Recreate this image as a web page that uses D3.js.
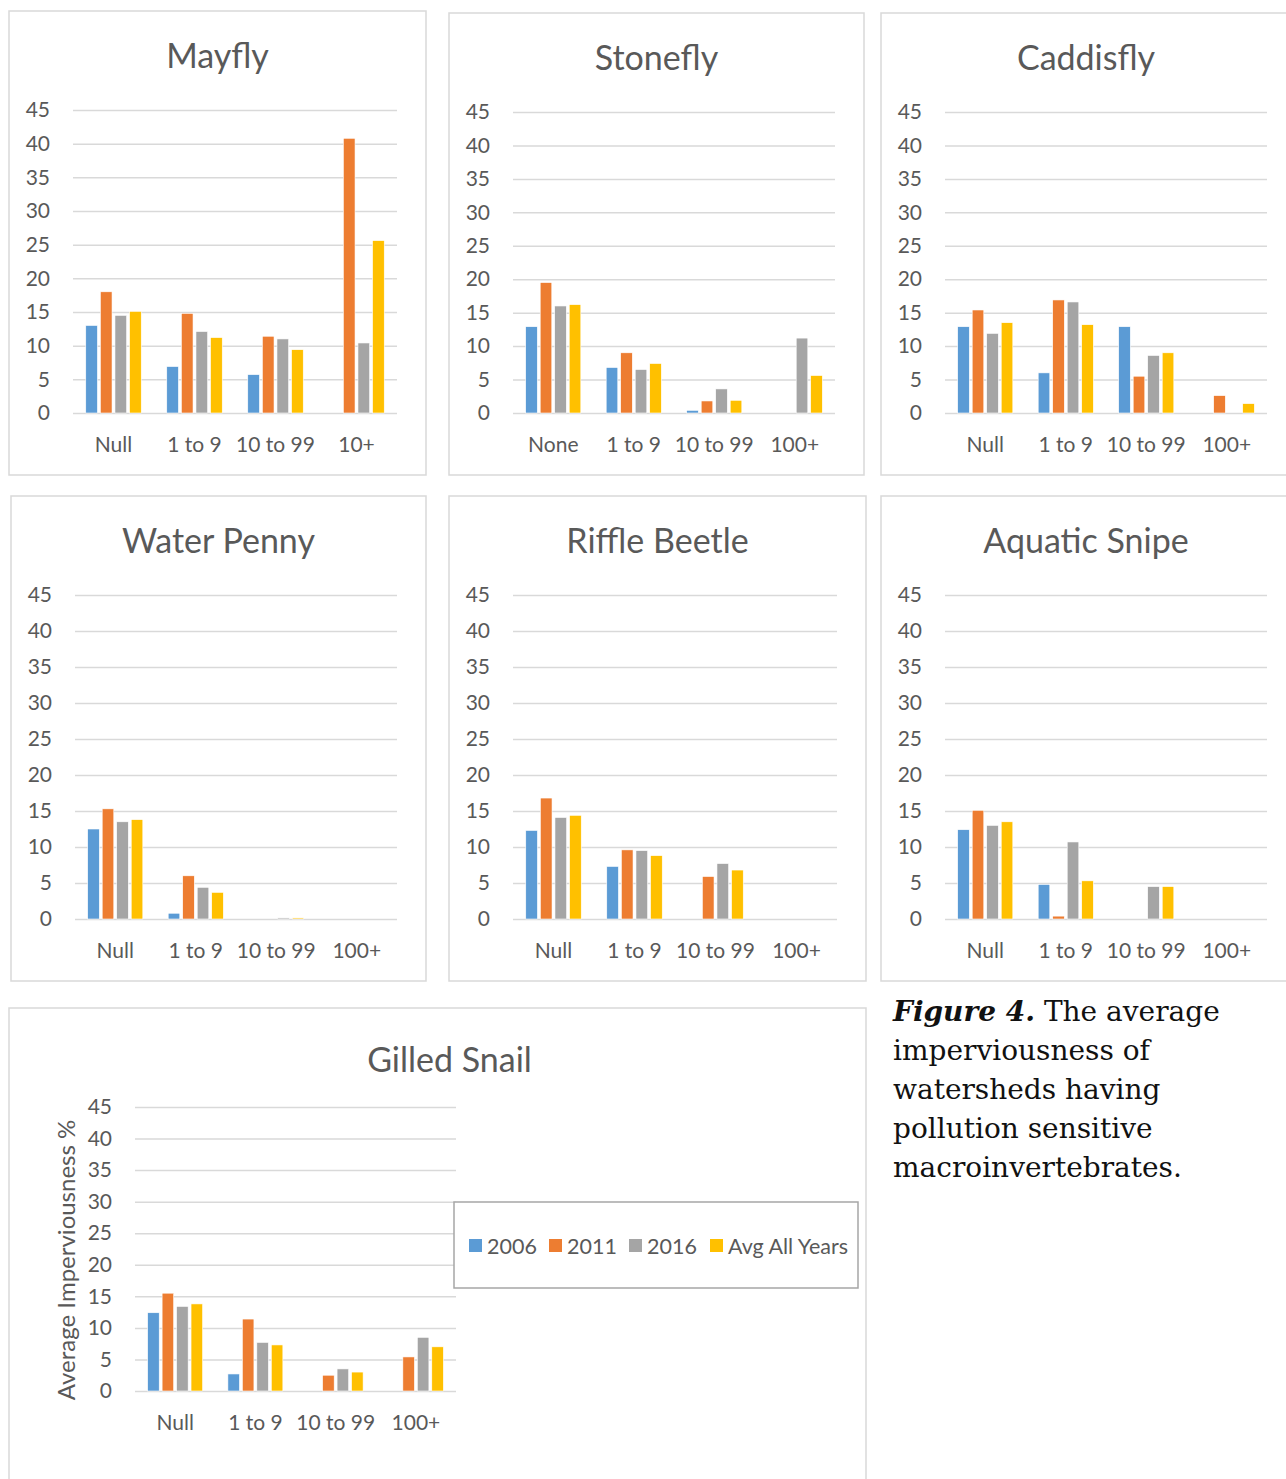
<!DOCTYPE html>
<html>
<head>
<meta charset="utf-8">
<script src="https://cdn.jsdelivr.net/npm/d3@7"></script>
<style>
  html, body { margin: 0; padding: 0; background: #fff; }
  svg { display: block; }
</style>
</head>
<body>
<svg id="chart" width="1286" height="1479"></svg>
<script>
// Series shown in every panel
const series = ["2006", "2011", "2016", "Avg All Years"];
const seriesColors = ["#5b9bd5", "#ed7d31", "#a5a5a5", "#ffc000"];

// Category labels (counts of organisms found)
const catsMayfly = ["Null", "1 to 9", "10 to 99", "10+"];
const catsStonefly = ["None", "1 to 9", "10 to 99", "100+"];
const catsStandard = ["Null", "1 to 9", "10 to 99", "100+"];

// Y ticks (average imperviousness, %)
const yTicks = [0, 5, 10, 15, 20, 25, 30, 35, 40, 45];

// Values per category: [2006, 2011, 2016, Avg All Years]; null = no bar
const mayfly = [
  [13.0, 18.0, 14.5, 15.1],
  [6.9, 14.8, 12.1, 11.2],
  [5.7, 11.4, 11.0, 9.4],
  [null, 40.8, 10.4, 25.6]
];
const stonefly = [
  [12.9, 19.5, 16.0, 16.2],
  [6.8, 9.0, 6.5, 7.4],
  [0.4, 1.8, 3.6, 1.9],
  [null, null, 11.2, 5.6]
];
const caddisfly = [
  [12.9, 15.4, 11.9, 13.5],
  [6.0, 16.9, 16.6, 13.2],
  [12.9, 5.5, 8.6, 9.0],
  [null, 2.6, null, 1.4]
];
const waterPenny = [
  [12.5, 15.3, 13.5, 13.8],
  [0.8, 6.0, 4.4, 3.7],
  [null, null, 0.15, 0.15],
  [null, null, null, null]
];
const riffleBeetle = [
  [12.3, 16.8, 14.1, 14.4],
  [7.3, 9.6, 9.5, 8.8],
  [null, 5.9, 7.7, 6.8],
  [null, null, null, null]
];
const aquaticSnipe = [
  [12.4, 15.1, 13.0, 13.5],
  [4.8, 0.4, 10.7, 5.3],
  [null, null, 4.5, 4.5],
  [null, null, null, null]
];
const gilledSnail = [
  [12.4, 15.5, 13.4, 13.8],
  [2.7, 11.4, 7.7, 7.3],
  [null, 2.5, 3.5, 3.0],
  [null, 5.4, 8.5, 7.0]
];

// Panel layout: frame box and plot area for each small multiple
const panels = [
  { title: "Mayfly",        cats: catsMayfly,   values: mayfly,       box: [9, 11, 417, 464],   plot: [73, 397, 110, 413],  titleY: 54 },
  { title: "Stonefly",      cats: catsStonefly, values: stonefly,     box: [449, 13, 415, 462], plot: [513, 835, 112, 413], titleY: 56 },
  { title: "Caddisfly",     cats: catsStandard, values: caddisfly,    box: [881, 13, 410, 462], plot: [945, 1267, 112, 413], titleY: 56 },
  { title: "Water Penny",   cats: catsStandard, values: waterPenny,   box: [11, 496, 415, 485], plot: [75, 397, 595, 919],  titleY: 539 },
  { title: "Riffle Beetle", cats: catsStandard, values: riffleBeetle, box: [449, 496, 417, 485], plot: [513, 837, 595, 919], titleY: 539 },
  { title: "Aquatic Snipe", cats: catsStandard, values: aquaticSnipe, box: [881, 496, 410, 485], plot: [945, 1267, 595, 919], titleY: 539 },
  { title: "Gilled Snail",  cats: catsStandard, values: gilledSnail,  box: [9, 1008, 857, 480], plot: [135, 456, 1107, 1391], titleY: 1058 }
];

const svg = d3.select("#chart");
const textColor = "#595959";
const gridColor = "#d9d9d9";
const fontFamily = "Lato, 'Open Sans', sans-serif";

panels.forEach(p => {
  const [bx, by, bw, bh] = p.box;
  const [pl, pr, pt, pb] = p.plot;

  const g = svg.append("g");

  // Panel frame
  g.append("rect")
    .attr("x", bx).attr("y", by).attr("width", bw).attr("height", bh)
    .attr("fill", "#fff").attr("stroke", gridColor).attr("stroke-width", 1.5);

  // Title
  g.append("text")
    .attr("x", bx + bw / 2 + (p.title === "Gilled Snail" ? 12 : 0))
    .attr("y", p.titleY)
    .attr("text-anchor", "middle").attr("dominant-baseline", "central")
    .attr("fill", textColor).attr("font-family", fontFamily).attr("font-size", 34)
    .text(p.title);

  const y = d3.scaleLinear().domain([0, 45]).range([pb, pt]);
  const x0 = d3.scaleBand().domain(p.cats).range([pl, pr]).padding(0);
  const bwBand = x0.bandwidth();
  const x1 = d3.scaleBand().domain(series)
    .range([bwBand * 0.1575, bwBand * 0.8425]).paddingInner(0.2);

  // Value axis with gridlines
  const yAxis = d3.axisLeft(y).tickValues(yTicks).tickSize(-(pr - pl)).tickPadding(23);
  const ya = g.append("g").attr("transform", `translate(${pl},0)`).call(yAxis);
  ya.select(".domain").remove();
  ya.selectAll(".tick line").attr("stroke", gridColor).attr("stroke-width", 1.5);
  ya.selectAll(".tick text")
    .attr("fill", textColor).attr("font-family", fontFamily).attr("font-size", 21);

  // Category axis
  const xAxis = d3.axisBottom(x0).tickSize(0).tickPadding(24);
  const xa = g.append("g").attr("transform", `translate(0,${pb})`).call(xAxis);
  xa.select(".domain").remove();
  xa.selectAll(".tick text")
    .attr("fill", textColor).attr("font-family", fontFamily).attr("font-size", 21);

  // Bars
  const groups = g.append("g").selectAll("g")
    .data(p.cats.map((c, i) => ({ cat: c, vals: p.values[i] })))
    .join("g")
    .attr("transform", d => `translate(${x0(d.cat)},0)`);

  groups.selectAll("rect")
    .data(d => d.vals.map((v, j) => ({ s: series[j], v, j })).filter(e => e.v !== null))
    .join("rect")
    .attr("x", e => x1(e.s))
    .attr("width", x1.bandwidth())
    .attr("y", e => y(e.v))
    .attr("height", e => y(0) - y(e.v))
    .attr("fill", e => seriesColors[e.j])
    .attr("stroke", "#fff").attr("stroke-width", 0.6);
});

// Value-axis title on the bottom panel
svg.append("text")
  .attr("transform", "translate(65,1260) rotate(-90)")
  .attr("text-anchor", "middle").attr("dominant-baseline", "central")
  .attr("fill", textColor).attr("font-family", fontFamily).attr("font-size", 24)
  .text("Average Imperviousness %");

// Legend
const legend = svg.append("g");
legend.append("rect")
  .attr("x", 454).attr("y", 1202).attr("width", 404).attr("height", 86)
  .attr("fill", "#fff").attr("stroke", "#a6a6a6").attr("stroke-width", 1.5);
const legendX = [469, 549, 629, 710];
series.forEach((s, i) => {
  legend.append("rect")
    .attr("x", legendX[i]).attr("y", 1239).attr("width", 13).attr("height", 13)
    .attr("fill", seriesColors[i]);
  legend.append("text")
    .attr("x", legendX[i] + 18).attr("y", 1246)
    .attr("dominant-baseline", "central")
    .attr("fill", textColor).attr("font-family", fontFamily).attr("font-size", 21.5)
    .text(s);
});

// Figure caption
const captionLines = [
  null,
  "imperviousness of",
  "watersheds having",
  "pollution sensitive",
  "macroinvertebrates."
];
const caption = svg.append("text")
  .attr("font-family", "'DejaVu Serif', serif").attr("font-size", 28).attr("fill", "#111");
const first = caption.append("tspan").attr("x", 893).attr("y", 1021);
first.append("tspan").attr("font-weight", "bold").attr("font-style", "italic").text("Figure 4.");
first.append("tspan").text(" The average");
captionLines.slice(1).forEach((line, i) => {
  caption.append("tspan").attr("x", 893).attr("y", 1021 + 39 * (i + 1)).text(line);
});
</script>
</body>
</html>
